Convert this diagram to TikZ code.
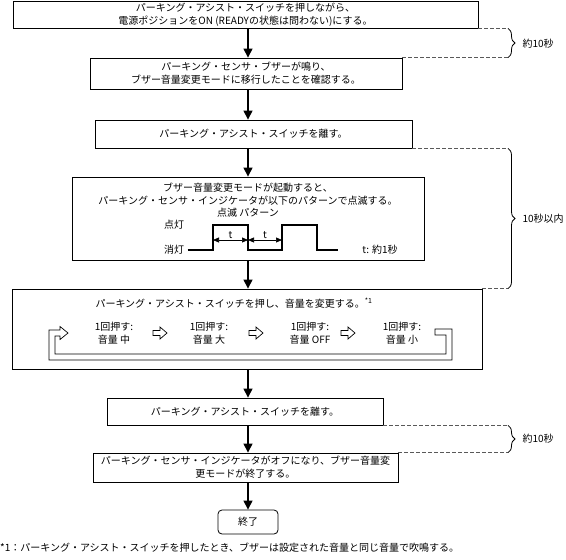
\documentclass[tikz,border=0pt]{standalone}
\usepackage{fontspec}
\setmainfont{Noto Sans CJK JP}
\usetikzlibrary{arrows.meta,decorations.pathreplacing}

\tikzset{
  stepbox/.style={draw, rectangle, align=center, line width=0.8pt, inner sep=0pt},
  waitline/.style={draw=black!65, dash pattern=on 4pt off 2pt, line width=0.6pt},
  waitbrace/.style={decorate, decoration={brace, amplitude=7pt}, line width=0.8pt},
  hollow/.style={draw, fill=white, line width=0.7pt, line join=miter},
  tmark/.style={{Triangle[length=6pt,width=5pt]}-{Triangle[length=6pt,width=5pt]}, line width=0.7pt},
}

\begin{document}
\begin{tikzpicture}[x=1pt, y=-1pt, >={Triangle[length=9pt,width=9pt]},
  font=\fontsize{10}{13}\selectfont]
\useasboundingbox (0,0) rectangle (566,560);

% steps
\node[stepbox, minimum width=465pt, minimum height=27pt] (push) at (245.5,14.5) {パーキング・アシスト・スイッチを押しながら、\\電源ポジションをON (READYの状態は問わない)にする。};
\node[stepbox, minimum width=312pt, minimum height=31pt] (buzz) at (246,73.5) {パーキング・センサ・ブザーが鳴り、\\ブザー音量変更モードに移行したことを確認する。};
\node[stepbox, minimum width=317pt, minimum height=28pt] (release) at (253.5,134) {パーキング・アシスト・スイッチを離す。};
\node[stepbox, minimum width=352pt, minimum height=83pt] (blink) at (248,218.5) {};
\node[stepbox, minimum width=470pt, minimum height=80pt] (change) at (247,329) {};
\node[stepbox, minimum width=276pt, minimum height=27pt] (letgo) at (245,411.5) {パーキング・アシスト・スイッチを離す。};
\node[stepbox, minimum width=305pt, minimum height=29pt] (finish) at (245.5,467.5) {パーキング・センサ・インジケータがオフになり、ブザー音量変\\更モードが終了する。};
\node[stepbox, rounded corners=4pt, minimum width=60pt, minimum height=24pt] (done) at (248,522) {終了};

% blink pattern
\node[align=center] (blinkinfo) at (248,194.5) {ブザー音量変更モードが起動すると、\\パーキング・センサ・インジケータが以下のパターンで点滅する。};
\node (pattern) at (248,212.5) {点滅 パターン};
\node (on) at (174,225) {点灯};
\node (off) at (174,250) {消灯};
\node (tlen) at (380,250) {t: 約1秒};
\draw[line width=1.6pt, line join=miter] (off.east) -- (213,250) -- (213,225) -- (248,225) -- (248,250)
  -- (282,250) -- (282,225) -- (317,225) -- (317,250) -- (338,250);
\coordinate (p1) at (213,240);
\coordinate (p2) at (248,240);
\coordinate (p3) at (282,240);
\draw[tmark] (p1) -- node[above=-2pt] (tA) {t} (p2);
\draw[tmark] (p2) -- node[above=-2pt] (tB) {t} (p3);

% volume change
\node (changeinfo) at (234,303) {パーキング・アシスト・スイッチを押し、音量を変更する。\textsuperscript{*1}};
\node[align=center] (vol1) at (114,333.5) {1回押す:\\音量 中};
\node[align=center] (vol2) at (209,333.5) {1回押す:\\音量 大};
\node[align=center] (vol3) at (310,333.5) {1回押す:\\音量 OFF};
\node[align=center] (vol4) at (402,333.5) {1回押す:\\音量 小};
\foreach \ax in {160,256,348}
  \draw[hollow] ({\ax-7},330.5) -- (\ax,330.5) -- (\ax,327) -- ({\ax+7},333) -- (\ax,339)
    -- (\ax,335.5) -- ({\ax-7},335.5) -- cycle;
\draw[hollow] (435,329) -- (452,329) -- (452,360) -- (49,360) -- (49,330) -- (60,330) -- (60,326.5)
  -- (68,333) -- (60,339.5) -- (60,336) -- (55,336) -- (55,354) -- (446,354) -- (446,335)
  -- (435,335) -- cycle;

% flow
\coordinate (ax) at (248,0);
\draw[->, line width=1.1pt] (push.south -| ax) -- (buzz.north -| ax);
\draw[->, line width=1.1pt] (buzz.south -| ax) -- (release.north -| ax);
\draw[->, line width=1.1pt] (release.south -| ax) -- (blink.north -| ax);
\draw[->, line width=1.1pt] (blink.south -| ax) -- (change.north -| ax);
\draw[->, line width=1.1pt] (change.south -| ax) -- (letgo.north -| ax);
\draw[->, line width=1.1pt] (letgo.south -| ax) -- (finish.north -| ax);
\draw[->, line width=1.1pt] (finish.south -| ax) -- (done.north -| ax);

% timing braces
\coordinate (bx) at (508,0);
\draw[waitline] (push.south east) -- (push.south east -| bx);
\draw[waitline] (buzz.north east) -- (buzz.north east -| bx);
\draw[waitbrace] (push.south east -| bx) -- (buzz.north east -| bx);
\node[anchor=west] (wait1) at (519,44) {約10秒};
\draw[waitline] (release.south east) -- (release.south east -| bx);
\draw[waitline] (change.north east) -- (change.north east -| bx);
\draw[waitbrace] (release.south east -| bx) -- (change.north east -| bx);
\node[anchor=west] (wait2) at (519,219) {10秒以内};
\draw[waitline] (letgo.south east) -- (letgo.south east -| bx);
\draw[waitline] (finish.north east) -- (finish.north east -| bx);
\draw[waitbrace] (letgo.south east -| bx) -- (finish.north east -| bx);
\node[anchor=west] (wait3) at (519,439) {約10秒};

\node[anchor=west, inner sep=0pt] (note) at (0,548) {*1：パーキング・アシスト・スイッチを押したとき、ブザーは設定された音量と同じ音量で吹鳴する。};
\end{tikzpicture}
\end{document}
